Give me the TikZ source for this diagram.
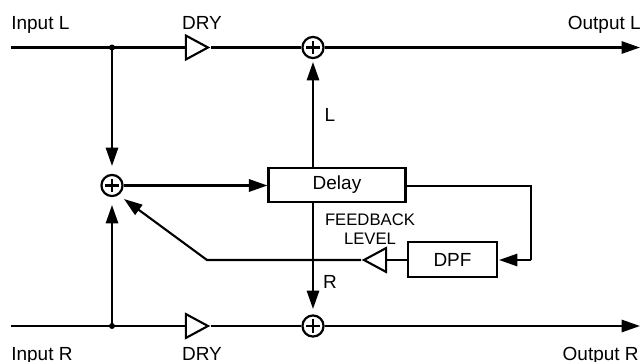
\documentclass[tikz,border=0pt]{standalone}
\usepackage{fontspec}
\setmainfont{Liberation Sans}
\usetikzlibrary{arrows.meta,shapes.geometric}
\tikzset{
    sig/.style={line width=1.2pt},
    arr/.style={sig, -{Triangle[length=10.5pt,width=7pt]}},
    adder/.style={circle, draw, line width=1.25pt, minimum size=12pt, inner sep=0pt,
        path picture={
            \draw[line width=1.15pt] ([xshift=-3.8pt]path picture bounding box.center) -- ([xshift=3.8pt]path picture bounding box.center);
            \draw[line width=1.15pt] ([yshift=-3.8pt]path picture bounding box.center) -- ([yshift=3.8pt]path picture bounding box.center);
        }},
    amp/.style={isosceles triangle, isosceles triangle stretches, draw, line width=1.2pt,
        inner sep=0pt, minimum width=13.6pt, minimum height=12.6pt, fill=white},
    block/.style={rectangle, draw, line width=1.2pt, inner sep=0pt, fill=white},
    lab/.style={font=\fontsize{10.8pt}{12pt}\selectfont, inner sep=0pt},
    smalllab/.style={font=\fontsize{9.5pt}{11pt}\selectfont, inner sep=0pt}
}
\begin{document}
\begin{tikzpicture}[x=0.02cm, y=-0.02cm]
    \useasboundingbox (0,0) rectangle (643,362);
    % Ends of the main lines
    \coordinate (inL) at (11,47.5);
    \coordinate (inR) at (11,326);
    \coordinate (outL) at (640,47.5);
    \coordinate (outR) at (640,326);
    \coordinate (splitL) at (112,47.5);
    \coordinate (splitR) at (112,326);
    % Blocks
    \node[amp] (dryL) at (193,47.5) {};
    \node[amp] (dryR) at (193,326) {};
    \node[adder] (addL) at (313,47.5) {};
    \node[adder] (addR) at (313,326) {};
    \node[adder] (addM) at (112,185.5) {};
    \node[block, minimum width=78pt, minimum height=19.2pt, lab] (delay) at (337,185) {Delay};
    \node[block, minimum width=50.4pt, minimum height=19.8pt, lab] (dpf) at (452.5,259.5) {DPF};
    \node[amp, shape border rotate=180] (fb) at (379,260) {};
    % Corners
    \coordinate (cornerA) at (531,186);
    \coordinate (cornerB) at (531,260);
    \coordinate (cornerC) at (207,260);
    \coordinate (tipA) at (112,166);
    \coordinate (tipB) at (112,205);
    \coordinate (tipC) at (313,62);
    \coordinate (tipD) at (313,309);
    \coordinate (tipE) at (124,199);
    \coordinate (tipF) at (499,260);
    % Main lines
    \draw[sig] (inL) -- (dryL.west);
    \draw[sig] (dryL.east) -- (addL);
    \draw[arr] (addL) -- (outL);
    \draw[sig] (inR) -- (dryR.west);
    \draw[sig] (dryR.east) -- (addR);
    \draw[arr] (addR) -- (outR);
    \fill (splitL) circle (3);
    \fill (splitR) circle (3);
    % Into the delay
    \draw[arr] (splitL) -- (tipA);
    \draw[arr] (splitR) -- (tipB);
    \draw[arr] (addM) -- (delay.west |- addM);
    \draw[arr] (delay.north -| addL) -- (tipC);
    \draw[arr] (delay.south -| addR) -- (tipD);
    % Feedback
    \draw[sig] (delay.east |- cornerA) -- (cornerA) -- (cornerB);
    \draw[arr] (cornerB) -- (tipF);
    \draw[sig] (dpf.west |- fb) -- (fb.east);
    \draw[arr] (fb.west) -- (cornerC) -- (tipE);
    % Labels
    \node[lab, anchor=base west] (labInL) at (11,29) {Input L};
    \node[lab, anchor=base west] (labInR) at (11,360) {Input R};
    \node[lab, anchor=base] (labDryL) at (202,29) {DRY};
    \node[lab, anchor=base] (labDryR) at (202,360) {DRY};
    \node[lab, anchor=base east] (labOutL) at (641,29) {Output L};
    \node[lab, anchor=base east] (labOutR) at (639,360) {Output R};
    \node[lab, anchor=base] (labL) at (330,121) {L};
    \node[lab, anchor=base] (labR) at (330,288) {R};
    \node[smalllab, anchor=base] (labFeed) at (370,225) {FEEDBACK};
    \node[smalllab, anchor=base] (labLevel) at (370,244) {LEVEL};
\end{tikzpicture}
\end{document}
